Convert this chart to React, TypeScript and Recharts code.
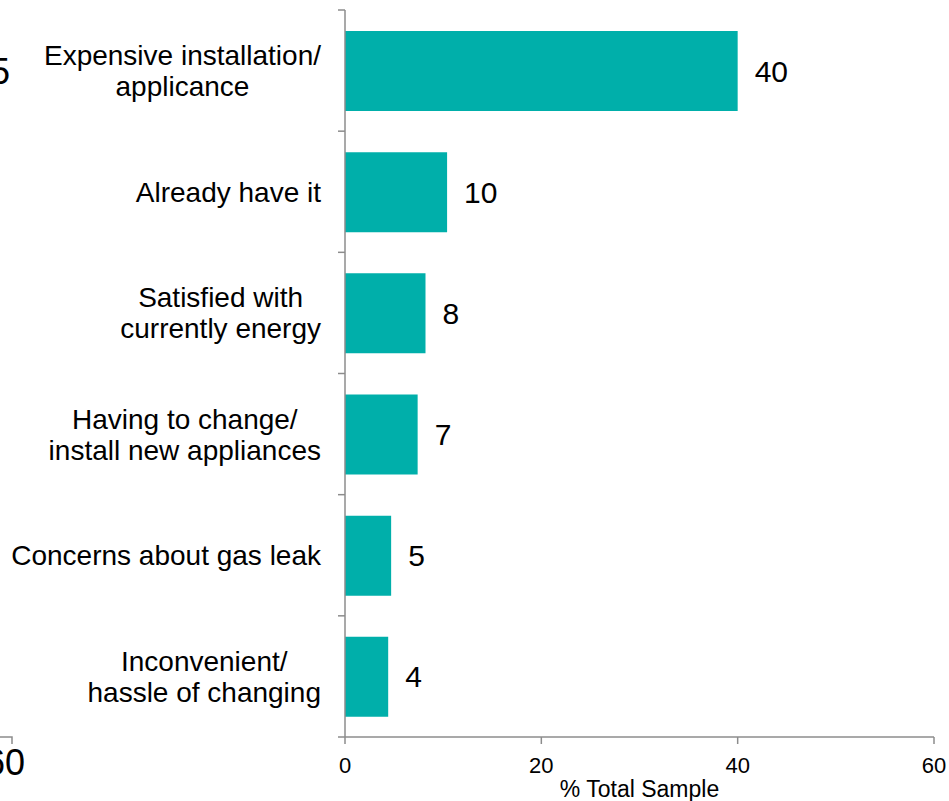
import { BarChart, Bar, XAxis, YAxis, LabelList } from 'recharts'

const categories = [
  'Expensive installation/\napplicance',
  'Already have it',
  'Satisfied with\ncurrently energy',
  'Having to change/\ninstall new appliances',
  'Concerns about gas leak',
  'Inconvenient/\nhassle of changing',
]
const values = [40, 10.4, 8.2, 7.4, 4.7, 4.4]
const valueLabels = ['40', '10', '8', '7', '5', '4']
const xTicks = [0, 20, 40, 60]

const W = 949
const H = 801
const TOP = 10
const X_AXIS_H = 64
const FONT = '"Liberation Sans", Arial, sans-serif'
const AXIS = '#8c8c8c'
const TEAL = '#00afaa'
const CAT_SIZE = 28

const data = categories.map((name, i) => ({ name, value: values[i], label: valueLabels[i] }))

let ctx: CanvasRenderingContext2D | null = null
function textWidth(s: string) {
  if (!ctx) ctx = document.createElement('canvas').getContext('2d')
  if (!ctx) return s.length * CAT_SIZE * 0.5
  ctx.font = `${CAT_SIZE}px ${FONT}`
  return ctx.measureText(s).width
}

// wrapped labels are centred as a block, the block is right-aligned to the axis
function CategoryTick(props: any) {
  const { x, y, payload, index } = props
  const lines = String(payload.value).split('\n')
  const lineH = 31
  const axisX = x + 24
  const band = (H - TOP - X_AXIS_H) / categories.length
  const first = y - ((lines.length - 1) * lineH) / 2
  const blockW = Math.max(...lines.map(textWidth))
  const cx = x - blockW / 2
  return (
    <g>
      <line x1={axisX - 7} x2={axisX} y1={y - band / 2} y2={y - band / 2} stroke={AXIS} strokeWidth={1.5} />
      {index === categories.length - 1 && (
        <line x1={axisX - 7} x2={axisX} y1={y + band / 2} y2={y + band / 2} stroke={AXIS} strokeWidth={1.5} />
      )}
      <text x={cx} y={first} textAnchor="middle" fontSize={CAT_SIZE} fill="#000" fontFamily={FONT}>
        {lines.map((t, i) => (
          <tspan key={i} x={cx} y={first + i * lineH} dy="0.36em">
            {t}
          </tspan>
        ))}
      </text>
    </g>
  )
}

export default function App() {
  return (
    <div style={{ position: 'absolute', left: 0, top: 0, width: W, height: H, background: '#fff' }}>
      <BarChart
        width={W}
        height={H}
        data={data}
        layout="vertical"
        margin={{ top: TOP, right: 15, left: 0, bottom: 0 }}
        style={{ fontFamily: FONT }}
      >
        <XAxis
          type="number"
          domain={[0, 60]}
          ticks={xTicks}
          height={X_AXIS_H}
          tickSize={7}
          tickMargin={13}
          axisLine={{ stroke: AXIS, strokeWidth: 1.5 }}
          tickLine={{ stroke: AXIS, strokeWidth: 1.5 }}
          tick={{ fill: '#000', fontSize: 22, fontFamily: FONT }}
          label={{ value: '% Total Sample', position: 'insideBottom', offset: 4, fill: '#000', fontSize: 23, fontFamily: FONT }}
        />
        <YAxis
          type="category"
          dataKey="name"
          width={345}
          tickSize={7}
          tickMargin={17}
          axisLine={{ stroke: AXIS, strokeWidth: 1.5 }}
          tickLine={false}
          tick={<CategoryTick />}
          interval={0}
        />
        <Bar dataKey="value" fill={TEAL} barSize={80} isAnimationActive={false}>
          <LabelList dataKey="label" position="right" offset={17} fill="#000" fontSize={30} fontFamily={FONT} />
        </Bar>
      </BarChart>
      {/* cut-off edge of the neighbouring chart */}
      <svg width={W} height={H} style={{ position: 'absolute', left: 0, top: 0, pointerEvents: 'none' }}>
        <text x={10} y={71} dy="0.36em" textAnchor="end" fontSize={36} fontFamily={FONT} fill="#000">
          5
        </text>
        <path d="M0 737 H12 V744" fill="none" stroke={AXIS} strokeWidth={1.5} />
        <text x={25} y={762} dy="0.36em" textAnchor="end" fontSize={36} fontFamily={FONT} fill="#000">
          60
        </text>
      </svg>
    </div>
  )
}
